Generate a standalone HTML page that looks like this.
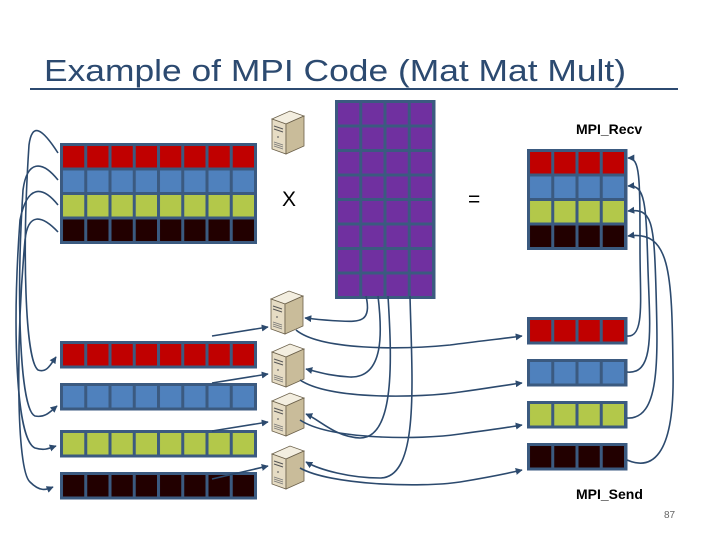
<!DOCTYPE html>
<html><head><meta charset="utf-8"><style>
html,body{margin:0;padding:0;background:#fff;}
svg{display:block;}
</style></head><body>
<svg width="720" height="540" viewBox="0 0 720 540" xmlns="http://www.w3.org/2000/svg">
<defs>
<pattern id="pR" patternUnits="userSpaceOnUse" width="24.25" height="24.5"><rect x="3" y="3" width="21.25" height="21.5" fill="#c00000"/></pattern>
<pattern id="pB" patternUnits="userSpaceOnUse" width="24.25" height="24.5"><rect x="3" y="3" width="21.25" height="21.5" fill="#4f81bd"/></pattern>
<pattern id="pG" patternUnits="userSpaceOnUse" width="24.25" height="24.5"><rect x="3" y="3" width="21.25" height="21.5" fill="#b3c84a"/></pattern>
<pattern id="pK" patternUnits="userSpaceOnUse" width="24.25" height="24.5"><rect x="3" y="3" width="21.25" height="21.5" fill="#220000"/></pattern>
<pattern id="pP" patternUnits="userSpaceOnUse" width="24.25" height="24.5"><rect x="3" y="3" width="21.25" height="21.5" fill="#7030a0"/></pattern>
<symbol id="srv" viewBox="0 0 36 46">
<polygon points="2,10 20,2 34,7 16,15" fill="#f3eee0" stroke="#6b604a" stroke-width="0.8"/>
<polygon points="2,10 16,15 16,45 2,40" fill="#e6dcc4" stroke="#6b604a" stroke-width="0.8"/>
<polygon points="16,15 34,7 34,37 16,45" fill="#c9bc9a" stroke="#6b604a" stroke-width="0.8"/>
<line x1="4" y1="17" x2="13" y2="20" stroke="#555" stroke-width="1"/>
<line x1="4" y1="20" x2="13" y2="23" stroke="#555" stroke-width="1"/>
<circle cx="8" cy="28" r="0.9" fill="#666"/>
<line x1="4" y1="33" x2="13" y2="36" stroke="#777" stroke-width="0.8"/>
<line x1="4" y1="35" x2="13" y2="38" stroke="#777" stroke-width="0.8"/>
<line x1="4" y1="37" x2="13" y2="40" stroke="#777" stroke-width="0.8"/>
</symbol>
<marker id="ar" viewBox="0 0 10 10" refX="9" refY="5" markerWidth="7" markerHeight="7" orient="auto" markerUnits="userSpaceOnUse"><path d="M0,0 L10,5 L0,10 z" fill="#2c4a6e"/></marker>
</defs>

<text x="44" y="81" font-family="Liberation Sans, sans-serif" font-size="31" fill="#2c4a70" textLength="582" lengthAdjust="spacingAndGlyphs">Example of MPI Code (Mat Mat Mult)</text>
<rect x="30" y="88" width="648" height="2" fill="#2c4a70"/>

<g transform="translate(60,143)">
<rect width="197" height="101" fill="#3b5a80"/>
<rect y="0" width="194" height="24.5" fill="url(#pR)"/>
<rect y="24.5" width="194" height="24.5" fill="url(#pB)"/>
<rect y="49" width="194" height="24.5" fill="url(#pG)"/>
<rect y="73.5" width="194" height="24.5" fill="url(#pK)"/>
</g>
<g transform="translate(335,100)">
<rect width="100.5" height="199" fill="#3b5a80"/>
<rect width="97" height="196" fill="url(#pP)"/>
</g>
<g transform="translate(527,149)">
<rect width="100.5" height="101" fill="#3b5a80"/>
<rect y="0" width="97" height="24.5" fill="url(#pR)"/>
<rect y="24.5" width="97" height="24.5" fill="url(#pB)"/>
<rect y="49" width="97" height="24.5" fill="url(#pG)"/>
<rect y="73.5" width="97" height="24.5" fill="url(#pK)"/>
</g>
<g transform="translate(60,341)"><rect width="197" height="27.5" fill="#3b5a80"/><rect width="194" height="24.5" fill="url(#pR)"/></g>
<g transform="translate(60,383)"><rect width="197" height="27.5" fill="#3b5a80"/><rect width="194" height="24.5" fill="url(#pB)"/></g>
<g transform="translate(60,430)"><rect width="197" height="27.5" fill="#3b5a80"/><rect width="194" height="24.5" fill="url(#pG)"/></g>
<g transform="translate(60,472)"><rect width="197" height="27.5" fill="#3b5a80"/><rect width="194" height="24.5" fill="url(#pK)"/></g>
<g transform="translate(527,317)"><rect width="100.5" height="27.5" fill="#3b5a80"/><rect width="97" height="24.5" fill="url(#pR)"/></g>
<g transform="translate(527,359)"><rect width="100.5" height="27.5" fill="#3b5a80"/><rect width="97" height="24.5" fill="url(#pB)"/></g>
<g transform="translate(527,401)"><rect width="100.5" height="27.5" fill="#3b5a80"/><rect width="97" height="24.5" fill="url(#pG)"/></g>
<g transform="translate(527,443)"><rect width="100.5" height="27.5" fill="#3b5a80"/><rect width="97" height="24.5" fill="url(#pK)"/></g>

<use href="#srv" x="270" y="109" width="36" height="46"/>
<use href="#srv" x="269" y="289" width="36" height="46"/>
<use href="#srv" x="270" y="342" width="36" height="46"/>
<use href="#srv" x="270" y="391" width="36" height="46"/>
<use href="#srv" x="270" y="444" width="36" height="46"/>

<text x="282" y="206" font-family="Liberation Sans, sans-serif" font-size="21" fill="#000">X</text>
<text x="468" y="206" font-family="Liberation Sans, sans-serif" font-size="21" fill="#000">=</text>
<text x="576" y="134" font-family="Liberation Sans, sans-serif" font-size="14" font-weight="bold" fill="#000">MPI_Recv</text>
<text x="576" y="499" font-family="Liberation Sans, sans-serif" font-size="14" font-weight="bold" fill="#000">MPI_Send</text>
<text x="664" y="518" font-family="Liberation Sans, sans-serif" font-size="10" fill="#666">87</text>

<g fill="none" stroke="#2c4a6e" stroke-width="1.6">
<path d="M58,153 C42,128 32,122 29,145 C22,250 25,360 38,370 C46,373 50,366 56,357" marker-end="url(#ar)"/>
<path d="M58,180 C42,160 27,160 23,190 C16,300 20,410 35,416 C45,418 50,412 57,406" marker-end="url(#ar)"/>
<path d="M58,205 C42,185 27,185 20,220 C12,330 16,440 35,448 C45,451 50,448 56,446" marker-end="url(#ar)"/>
<path d="M58,232 C42,215 28,212 25,240 C16,340 16,470 30,482 C40,492 46,490 53,487" marker-end="url(#ar)"/>
<path d="M212,336 L268,327" marker-end="url(#ar)"/>
<path d="M212,383 L268,374" marker-end="url(#ar)"/>
<path d="M212,431 L268,422" marker-end="url(#ar)"/>
<path d="M212,479 L268,466" marker-end="url(#ar)"/>
<path d="M366,296 C372,322 360,322 340,321 C320,320 315,319 305,318" marker-end="url(#ar)"/>
<path d="M378,296 C382,330 385,378 350,377 C330,376 318,372 306,369" marker-end="url(#ar)"/>
<path d="M388,296 C392,360 395,438 360,438 C335,437 320,420 306,414" marker-end="url(#ar)"/>
<path d="M410,296 C412,380 420,478 380,478 C350,478 320,470 306,462" marker-end="url(#ar)"/>
<path d="M296,330 C320,350 400,350 450,345 C480,341 500,339 522,336" marker-end="url(#ar)"/>
<path d="M300,380 C330,400 420,398 460,392 C490,388 505,385 522,383" marker-end="url(#ar)"/>
<path d="M300,420 C330,440 420,440 460,434 C490,430 505,428 522,425" marker-end="url(#ar)"/>
<path d="M300,468 C330,485 420,488 460,482 C490,477 505,474 522,470" marker-end="url(#ar)"/>
<path d="M627,336 C645,338 640,300 640,250 C640,175 640,158 628,158" marker-end="url(#ar)"/>
<path d="M627,372 C655,375 650,330 648,270 C646,200 645,185 628,186" marker-end="url(#ar)"/>
<path d="M627,418 C660,420 658,360 656,290 C654,220 652,208 628,211" marker-end="url(#ar)"/>
<path d="M627,460 C650,470 675,460 673,370 C672,270 670,230 628,236" marker-end="url(#ar)"/>
</g>
</svg>
</body></html>
